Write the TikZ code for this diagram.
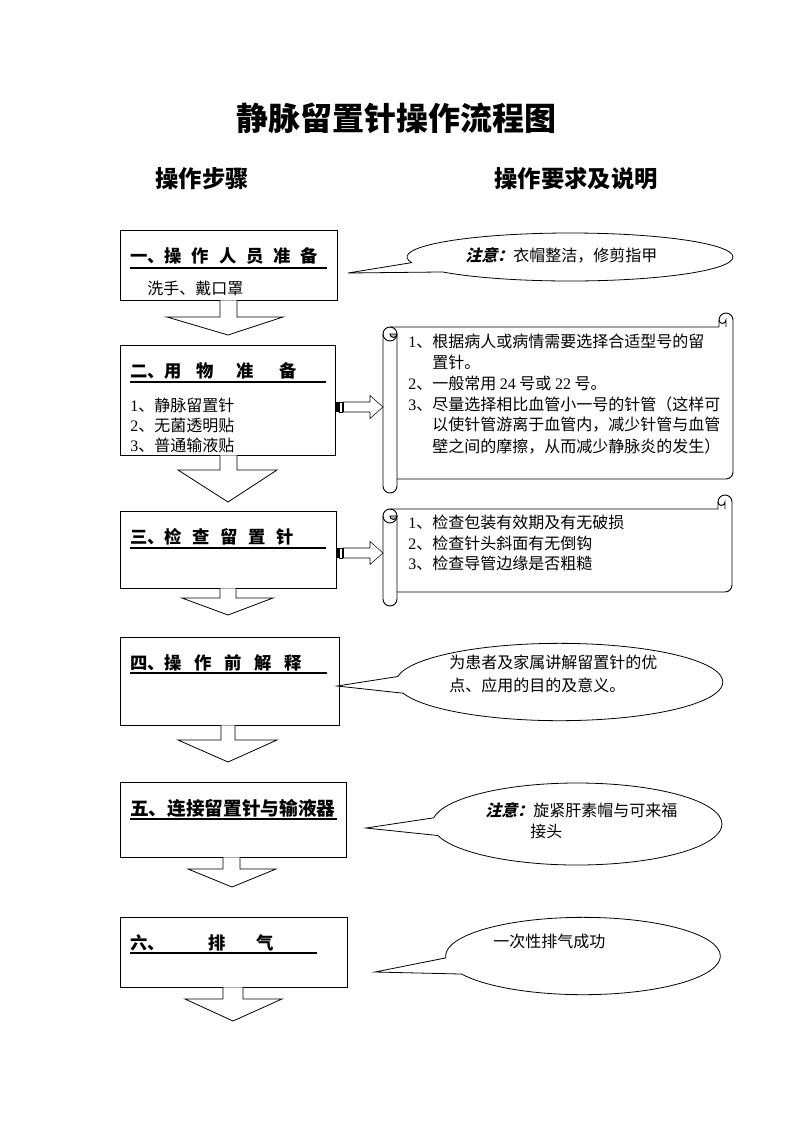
\documentclass[tikz,border=0pt]{standalone}
\usepackage{fontspec}
\setmainfont{Noto Sans CJK SC}
\newfontfamily\tmfont{Liberation Serif}
\newfontfamily\slfont{Noto Sans CJK SC}[FakeSlant=0.25]
\newcommand\tm[1]{{\tmfont #1}}
\newcommand\zyi{{\slfont\bfseries 注意：}}
\usetikzlibrary{shapes.callouts,calc}
% horizontal scroll: left top right bottom (px)
\newcommand\scrl[4]{%
  \draw[scr] (#1+14,#4-14) -- (#3-7,#4-14)
     arc[start angle=90,end angle=0,radius=7]
     -- (#3,#2+7) arc[start angle=0,end angle=-180,radius=7]
     -- (#3-14,#2+14) -- (#1+7,#2+14);
  \draw[scr] (#3-7,#2+14) -- (#3-7,#2+7) arc[start angle=0,end angle=180,radius=3.5];
  \draw[scr] (#1,#2+21) -- (#1,#4-7) arc[start angle=180,end angle=0,radius=7] -- (#1+14,#2+21);
  \draw[scr] (#1+7,#2+21) circle[radius=7];
  \filldraw[scr,fill=gray!55] (#1+14,#2+21) arc[start angle=0,end angle=180,radius=3.5] -- cycle;
}
% striped right arrow centred at y
\newcommand\sarr[1]{%
  \fill (336,#1-5) rectangle (338.5,#1+5);
  \draw[thin] (339.5,#1-5) rectangle (342,#1+5);
  \draw[thin] (343.5,#1-5) -- (370,#1-5) -- (370,#1-11.5) -- (383,#1) -- (370,#1+11.5) -- (370,#1+5) -- (343.5,#1+5) -- cycle;
}
\begin{document}
\begin{tikzpicture}[x=0.75pt,y=-0.75pt,
  box/.style={draw,line width=0.6pt,inner sep=0pt},
  ul/.style={line width=1.5pt},
  txt/.style={anchor=west,inner sep=0pt,font=\fontsize{12}{14}\selectfont},
  ttl/.style={anchor=west,inner sep=0pt,font=\fontsize{13}{15}\selectfont\bfseries},
  blk/.style={draw,line width=0.6pt,fill=white,line join=miter},
  scr/.style={line width=0.7pt},
  co/.style={ellipse callout,draw,line width=0.6pt,inner sep=0pt,callout pointer arc=25},
  head/.style={inner sep=0pt,font=\fontsize{17.5}{20}\selectfont\bfseries}]
\useasboundingbox (0,0) rectangle (793,1122);

% title and headers
\node[inner sep=0pt,font=\fontsize{24}{28}\selectfont\bfseries] (title) at (396,118) {静脉留置针操作流程图};
\node[head] (h1) at (202,179) {操作步骤};
\node[head] (h2) at (576,179) {操作要求及说明};

% step boxes
\node[box,minimum width=162.75pt,minimum height=52.5pt] (b1) at (228.5,265) {};
\node[box,minimum width=161.25pt,minimum height=82.5pt] (b2) at (227.5,400) {};
\node[box,minimum width=162pt,minimum height=57.75pt] (b3) at (228,549.5) {};
\node[box,minimum width=164.25pt,minimum height=66pt] (b4) at (229.5,681) {};
\node[box,minimum width=169.5pt,minimum height=56.25pt] (b5) at (233,819.5) {};
\node[box,minimum width=170.25pt,minimum height=52.5pt] (b6) at (233.5,952) {};

% box titles
\node[ttl] (t1) at (130,256) {一、操\hspace{7.3pt}作\hspace{7.3pt}人\hspace{7.3pt}员\hspace{7.3pt}准\hspace{7.3pt}备};
\draw[ul] (130,268) -- (327,268);
\node[txt] (t1a) at (147,288) {洗手、戴口罩};

\node[ttl] (t2) at (130,371) {二、用\hspace{11pt}物\hspace{17pt}准\hspace{19pt}备};
\draw[ul] (130,382) -- (326,382);
\node[txt] (t2a) at (130,405) {\tm{1}、静脉留置针};
\node[txt] (t2b) at (130,425) {\tm{2}、无菌透明贴};
\node[txt] (t2c) at (130,445) {\tm{3}、普通输液贴};

\node[ttl] (t3) at (130,537) {三、检\hspace{8pt}查\hspace{8pt}留\hspace{8pt}置\hspace{8pt}针};
\draw[ul] (130,548) -- (326,548);

\node[ttl] (t4) at (130,663) {四、操\hspace{9.5pt}作\hspace{9.5pt}前\hspace{9.5pt}解\hspace{9.5pt}释};
\draw[ul] (130,673) -- (327,673);

\node[ttl,font=\fontsize{14}{16}\selectfont\bfseries] (t5) at (130,808) {五、连接留置针与输液器};
\draw[ul] (130,819) -- (337,819);

\node[ttl] (t6) at (130,943) {六、\hspace{33pt}排\hspace{23pt}气};
\draw[ul] (130,953) -- (317,953);

% down block arrows
\draw[blk] (220,0 |- b1.south) -- (220,317) -- (167,317) -- (228,335) -- (283,317) -- (237,317) -- (237,0 |- b1.south);
\draw[blk] (220,0 |- b2.south) -- (220,470) -- (178,470) -- (228,502) -- (277,470) -- (237,470) -- (237,0 |- b2.south);
\draw[blk] (220,0 |- b3.south) -- (220,598) -- (182,598) -- (228,615) -- (273,598) -- (236,598) -- (236,0 |- b3.south);
\draw[blk] (221,0 |- b4.south) -- (221,740) -- (178,740) -- (228,762) -- (277,740) -- (235,740) -- (235,0 |- b4.south);
\draw[blk] (223,0 |- b5.south) -- (223,869) -- (188,869) -- (232,887) -- (276,869) -- (240,869) -- (240,0 |- b5.south);
\draw[blk] (223,0 |- b6.south) -- (223,999) -- (185,999) -- (233,1021) -- (282,999) -- (243,999) -- (243,0 |- b6.south);

% scrolls with striped arrows
\scrl{383}{313}{733}{493}
\sarr{407}
\node[txt] (s1a) at (408,341) {\tm{1}、根据病人或病情需要选择合适型号的留};
\node[txt] (s1b) at (408,362) {\phantom{\tm{1}、}置针。};
\node[txt] (s1c) at (408,383) {\tm{2}、一般常用~\tm{24}~号或~\tm{22}~号。};
\node[txt] (s1d) at (408,404) {\tm{3}、尽量选择相比血管小一号的针管（这样可};
\node[txt] (s1e) at (408,425) {\phantom{\tm{3}、}以使针管游离于血管内，减少针管与血管};
\node[txt] (s1f) at (408,446) {\phantom{\tm{3}、}壁之间的摩擦，从而减少静脉炎的发生）};

\scrl{383}{495}{732}{606}
\sarr{553}
\node[txt] (s2a) at (408,522) {\tm{1}、检查包装有效期及有无破损};
\node[txt] (s2b) at (408,543) {\tm{2}、检查针头斜面有无倒钩};
\node[txt] (s2c) at (408,563) {\tm{3}、检查导管边缘是否粗糙};

% callouts
\node[co,minimum width=244.5pt,minimum height=36pt,callout absolute pointer={(348,273)}] (c1) at (570,257) {};
\node[txt] (c1t) at (465,255) {\zyi 衣帽整洁，修剪指甲};

\node[co,minimum width=245pt,minimum height=58pt,callout absolute pointer={(337,686)}] (c4) at (559.5,682) {};
\node[txt] (c4a) at (449,662) {为患者及家属讲解留置针的优};
\node[txt] (c4b) at (449,685) {点、应用的目的及意义。};

\node[co,minimum width=217.5pt,minimum height=61.5pt,callout absolute pointer={(366,828)}] (c5) at (577,824) {};
\node[txt] (c5a) at (485,810) {\zyi 旋紧肝素帽与可来福};
\node[txt] (c5b) at (530,831) {接头};

\node[co,minimum width=206pt,minimum height=58pt,callout absolute pointer={(375,972)}] (c6) at (583,956) {};
\node[txt] (c6a) at (493,941) {一次性排气成功};
\end{tikzpicture}
\end{document}
